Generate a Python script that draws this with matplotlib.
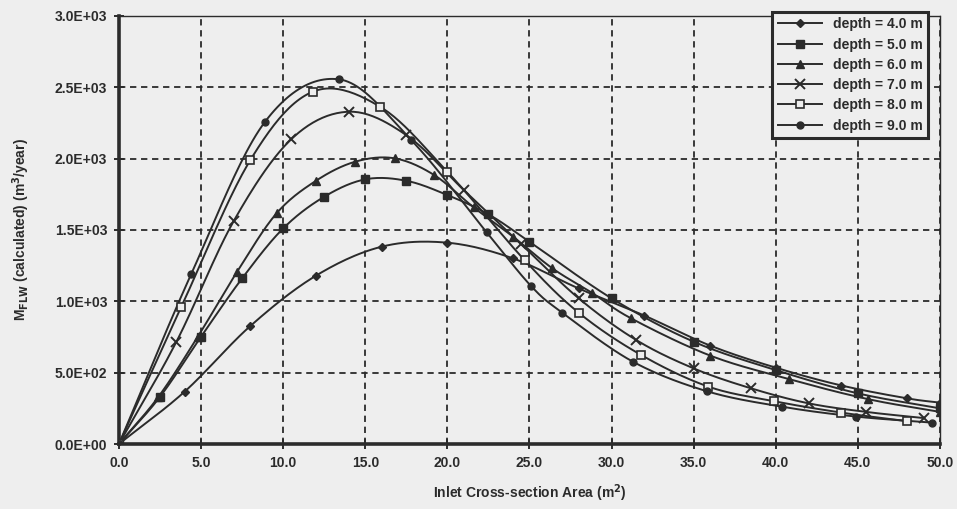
import numpy as np
import matplotlib.pyplot as plt

plt.rcParams['font.family'] = ['Liberation Sans', 'DejaVu Sans']
plt.rcParams['font.weight'] = 'bold'

ink = '#2b2b2b'
paper = '#eeeeee'

# inlet cross-section area (m2) vs calculated M_FLW (m3/year), one pair per depth
area_d4 = [0, 4, 8, 12, 16, 20, 24, 28, 32, 36, 40, 44, 48, 50]
flow_d4 = [0, 367, 827, 1180, 1383, 1411, 1301, 1090, 900, 690, 535, 410, 320, 290]

area_d5 = [0, 2.5, 5, 7.5, 10, 12.5, 15, 17.5, 20, 22.5, 25, 30, 35, 40, 45, 50]
flow_d5 = [0, 331, 752, 1161, 1511, 1733, 1855, 1845, 1745, 1610, 1418, 1021, 717, 518, 355, 250]

area_d6 = [0, 2.4, 4.8, 7.2, 9.6, 12, 14.4, 16.8, 19.2, 21.6, 24, 26.4, 28.8, 31.2, 36, 40.8, 45.6, 50]
flow_d6 = [0, 330, 752, 1208, 1617, 1845, 1979, 2002, 1885, 1659, 1453, 1231, 1060, 880, 620, 455, 315, 225]

area_d7 = [0, 3.5, 7, 10.5, 14, 17.5, 21, 24.5, 28, 31.5, 35, 38.5, 42, 45.5, 49]
flow_d7 = [0, 717, 1565, 2137, 2329, 2165, 1780, 1400, 1021, 729, 530, 390, 285, 225, 182]

area_d8 = [0, 3.8, 8, 11.8, 15.9, 20, 24.7, 28, 31.8, 35.9, 39.9, 44, 48]
flow_d8 = [0, 962, 1990, 2469, 2364, 1908, 1289, 920, 624, 402, 300, 220, 160]

area_d9 = [0, 4.4, 8.9, 13.4, 17.8, 22.4, 25.1, 27, 31.3, 35.8, 40.4, 44.9, 49.5]
flow_d9 = [0, 1191, 2259, 2556, 2130, 1483, 1107, 920, 577, 370, 261, 192, 150]

depth_labels = ['depth = 4.0 m', 'depth = 5.0 m', 'depth = 6.0 m',
                'depth = 7.0 m', 'depth = 8.0 m', 'depth = 9.0 m']
x_ticks = [0, 5, 10, 15, 20, 25, 30, 35, 40, 45, 50]
y_ticks = [0, 500, 1000, 1500, 2000, 2500, 3000]


def smooth(xs, ys, n=24):
    # catmull-rom through the points, like a spreadsheet "smoothed line"
    pts = np.column_stack([xs, ys]).astype(float)
    p = np.vstack([2 * pts[0] - pts[1], pts, 2 * pts[-1] - pts[-2]])
    t = np.linspace(0, 1, n, endpoint=False)[:, None]
    out = []
    for i in range(1, len(p) - 2):
        p0, p1, p2, p3 = p[i - 1], p[i], p[i + 1], p[i + 2]
        seg = 0.5 * (2 * p1 + (-p0 + p2) * t
                     + (2 * p0 - 5 * p1 + 4 * p2 - p3) * t ** 2
                     + (-p0 + 3 * p1 - 3 * p2 + p3) * t ** 3)
        out.append(seg)
    out.append(pts[-1:])
    s = np.vstack(out)
    return s[:, 0], s[:, 1]


series = [
    (area_d4, flow_d4, dict(marker='D', ms=4, mfc=ink)),
    (area_d5, flow_d5, dict(marker='s', ms=5.5, mfc=ink)),
    (area_d6, flow_d6, dict(marker='^', ms=6, mfc=ink)),
    (area_d7, flow_d7, dict(marker='x', ms=7, mew=1.4)),
    (area_d8, flow_d8, dict(marker='s', ms=5.5, mfc=paper, mew=1.2)),
    (area_d9, flow_d9, dict(marker='o', ms=5, mfc=ink)),
]

fig = plt.figure(figsize=(9.57, 5.09), dpi=100, facecolor=paper)
ax = fig.add_axes([0.1243, 0.1277, 0.8579, 0.8409], facecolor=paper)

for (xs, ys, mk), lab in zip(series, depth_labels):
    sx, sy = smooth(xs, ys)
    ax.plot(sx, sy, color=ink, lw=1.4, zorder=3)
    ax.plot(xs, ys, ls='none', color=ink, mec=ink, zorder=4, **mk)
    # legend proxy: line plus marker
    ax.plot([], [], color=ink, lw=1.4, mec=ink, label=lab, **mk)

ax.set_xlim(0, 50)
ax.set_ylim(0, 3000)
ax.set_xticks(x_ticks)
ax.set_yticks(y_ticks)
ax.set_xticklabels(['%.1f' % v for v in x_ticks])
ax.set_yticklabels(['%.1E' % v for v in y_ticks])

ax.grid(True, color=ink, lw=1.3, ls=(0, (3.5, 2.6)))
ax.set_axisbelow(True)

for side in ['left', 'bottom']:
    ax.spines[side].set_linewidth(2.6)
    ax.spines[side].set_color(ink)
for side in ['top', 'right']:
    ax.spines[side].set_linewidth(1.0)
    ax.spines[side].set_linestyle((0, (1, 1)))
    ax.spines[side].set_color(ink)

ax.tick_params(direction='inout', length=7, width=1.4, colors=ink,
               labelsize=10, pad=5)

ax.set_xlabel('Inlet Cross-section Area (m$^\\mathbf{2}$)', fontsize=10,
              color=ink, labelpad=9, fontweight='bold')
ax.set_ylabel('M$_{\\mathbf{FLW}}$ (calculated) (m$^\\mathbf{3}$/year)',
              fontsize=10, color=ink, labelpad=16, fontweight='bold')

leg = ax.legend(loc='upper right', bbox_to_anchor=(0.986, 1.01),
                borderaxespad=0, fontsize=10, handlelength=3.2,
                labelspacing=0.45, fancybox=False, framealpha=1,
                facecolor=paper, edgecolor=ink)
leg.get_frame().set_linewidth(2.2)
for txt in leg.get_texts():
    txt.set_color(ink)

fig.savefig('out.png', dpi=100, facecolor=paper)
